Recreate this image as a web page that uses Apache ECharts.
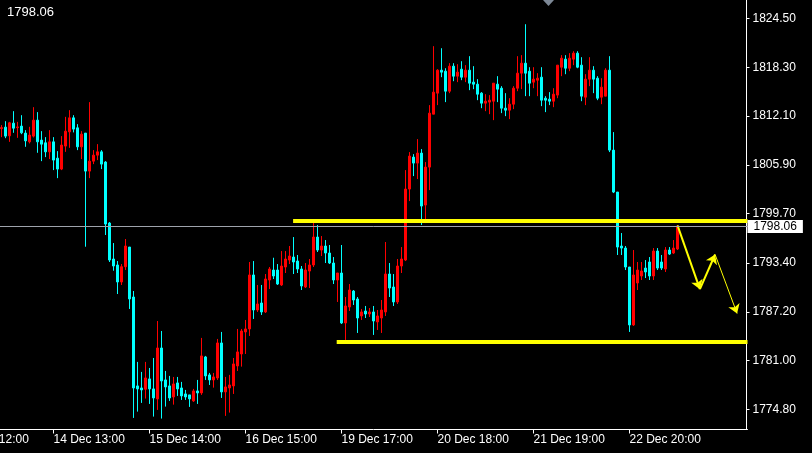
<!DOCTYPE html>
<html><head><meta charset="utf-8">
<script src="https://cdn.jsdelivr.net/npm/echarts@6/dist/echarts.min.js"></script>
<style>html,body{margin:0;padding:0;background:#000;}#c{width:812px;height:453px;}</style>
</head><body><div id="c"></div>
<script>
// ---- data ----
const tickLabels = ['13 Dec 12:00','14 Dec 13:00','15 Dec 14:00','16 Dec 15:00','19 Dec 17:00','20 Dec 18:00','21 Dec 19:00','22 Dec 20:00'];
const priceTicks = [1774.80,1781.00,1787.20,1793.40,1799.70,1805.90,1812.10,1818.30,1824.50];
const opens = [1810.50,1810.69,1809.59,1811.20,1810.63,1810.82,1809.93,1808.82,1809.55,1811.58,
1809.04,1808.70,1807.55,1808.82,1806.75,1805.36,1808.28,1810.09,1811.87,1810.60,
1808.19,1809.93,1805.10,1806.37,1807.13,1807.55,1806.25,1798.50,1793.93,1793.17,
1791.01,1792.95,1795.45,1789.10,1777.80,1777.54,1777.38,1778.69,1777.42,1776.15,
1782.62,1778.56,1777.80,1776.40,1778.18,1777.54,1776.78,1776.66,1775.89,1777.16,
1776.91,1781.48,1779.20,1778.56,1778.81,1783.26,1777.04,1777.54,1777.80,1780.34,
1781.86,1784.66,1785.04,1791.90,1787.45,1788.34,1787.20,1791.26,1792.53,1792.53,
1790.63,1792.91,1793.80,1794.18,1793.67,1792.66,1790.37,1792.40,1793.17,1796.72,
1795.07,1795.58,1794.69,1793.42,1791.26,1792.15,1785.80,1787.83,1789.86,1788.85,
1786.69,1787.32,1786.94,1787.20,1785.93,1786.43,1787.20,1792.02,1790.37,1788.47,
1793.04,1793.80,1802.82,1806.88,1806.12,1807.39,1800.79,1805.61,1812.34,1815.01,
1817.93,1817.80,1815.26,1818.44,1817.17,1818.06,1817.04,1817.93,1816.41,1816.15,
1815.01,1813.74,1813.87,1813.99,1816.15,1815.64,1813.10,1812.85,1813.61,1815.64,
1817.55,1818.82,1817.80,1816.41,1816.66,1817.04,1814.37,1814.25,1813.99,1814.76,
1818.31,1819.33,1818.18,1819.33,1820.09,1818.57,1814.50,1816.79,1817.93,1816.91,
1814.50,1814.63,1817.93,1807.77,1802.44,1795.58,1795.32,1792.91,1785.55,1790.88,
1791.77,1792.78,1793.55,1791.77,1794.94,1793.55,1792.66,1795.07,1794.69,1795.20];
const closes = [1810.63,1809.55,1811.24,1810.56,1810.72,1809.97,1808.95,1809.68,1811.58,1808.82,
1808.53,1807.55,1808.82,1806.50,1805.36,1808.41,1810.18,1811.87,1810.44,1808.19,
1809.80,1805.10,1806.37,1807.13,1807.55,1805.99,1798.37,1793.80,1793.04,1791.01,
1792.95,1795.58,1788.85,1777.54,1777.42,1777.29,1778.81,1777.42,1776.27,1782.62,
1778.43,1777.67,1776.27,1778.05,1777.42,1776.53,1776.40,1776.15,1777.16,1776.91,
1781.61,1779.07,1778.56,1778.94,1783.26,1777.04,1777.67,1777.92,1780.59,1782.12,
1784.78,1785.04,1791.90,1787.45,1788.21,1787.20,1791.39,1792.66,1791.77,1790.75,
1793.04,1793.93,1794.31,1793.55,1792.66,1790.50,1792.53,1793.17,1796.72,1795.07,
1795.58,1794.69,1793.42,1791.26,1792.15,1785.80,1787.96,1789.99,1788.72,1786.43,
1787.20,1786.94,1787.20,1786.05,1786.69,1787.45,1792.02,1790.24,1788.47,1793.04,
1793.93,1802.82,1807.01,1806.12,1807.39,1800.66,1805.61,1812.47,1815.14,1817.93,
1817.68,1815.26,1818.44,1817.17,1817.68,1817.04,1817.93,1816.28,1816.15,1814.88,
1813.74,1813.99,1814.12,1816.28,1815.52,1813.10,1812.85,1813.61,1815.64,1817.55,
1818.82,1817.55,1816.28,1816.79,1816.91,1814.12,1814.12,1813.99,1814.88,1818.57,
1819.45,1818.18,1819.45,1820.09,1818.31,1814.63,1816.79,1817.93,1816.79,1814.37,
1815.77,1817.93,1807.77,1802.44,1795.45,1795.32,1792.91,1785.55,1791.90,1792.53,
1792.40,1792.28,1791.77,1794.94,1792.78,1792.78,1795.07,1794.56,1795.32,1798.06];
const lows = [1809.42,1809.29,1808.82,1809.97,1809.33,1809.80,1808.19,1808.62,1809.38,1807.43,
1806.37,1806.88,1806.63,1805.23,1804.21,1805.23,1807.55,1808.06,1810.02,1807.77,
1806.63,1795.49,1804.21,1805.99,1806.50,1805.36,1796.98,1793.55,1792.44,1789.48,
1790.63,1792.53,1787.58,1773.73,1774.53,1775.64,1776.19,1775.51,1773.90,1774.75,
1773.65,1775.17,1775.89,1775.42,1776.53,1776.02,1776.02,1775.13,1775.77,1775.51,
1776.66,1778.56,1777.92,1777.58,1778.56,1776.27,1773.99,1774.41,1776.78,1779.70,
1780.25,1781.86,1784.15,1786.31,1787.20,1786.82,1787.07,1790.12,1791.39,1790.63,
1790.50,1792.15,1793.29,1792.02,1792.15,1789.99,1790.24,1790.24,1792.91,1794.82,
1794.31,1793.42,1793.29,1790.75,1788.47,1785.67,1783.64,1787.32,1788.09,1784.53,
1786.18,1786.43,1786.56,1784.28,1784.91,1784.53,1786.69,1789.10,1787.96,1788.21,
1792.15,1793.67,1801.29,1804.47,1804.09,1798.25,1798.50,1802.69,1812.34,1813.49,
1817.04,1813.87,1815.01,1816.53,1816.41,1816.66,1816.41,1815.39,1815.52,1814.12,
1813.10,1812.72,1812.34,1811.58,1813.87,1812.47,1812.09,1811.71,1812.98,1815.26,
1815.52,1814.63,1814.63,1815.64,1814.63,1813.36,1812.60,1813.49,1813.23,1814.37,
1817.17,1817.42,1817.80,1818.57,1818.18,1813.99,1813.49,1815.90,1815.01,1814.12,
1813.61,1814.63,1807.52,1802.31,1794.44,1794.44,1792.53,1784.66,1785.42,1789.99,
1791.26,1791.51,1791.26,1791.26,1792.53,1792.53,1792.28,1794.44,1794.56,1795.07];
const highs = [1810.95,1811.45,1811.36,1812.72,1811.36,1812.21,1810.31,1810.73,1813.23,1812.60,
1810.18,1809.42,1810.31,1809.42,1807.64,1809.55,1812.00,1812.85,1812.21,1811.07,
1810.18,1809.93,1813.87,1807.77,1808.53,1807.77,1806.37,1798.63,1795.96,1793.67,
1793.29,1796.47,1795.45,1789.86,1780.85,1779.58,1780.85,1780.08,1781.35,1786.05,
1784.78,1779.70,1779.07,1778.94,1778.94,1778.31,1777.29,1776.66,1777.42,1778.56,
1783.90,1781.61,1779.45,1779.45,1783.77,1784.66,1778.94,1779.20,1781.35,1785.04,
1785.04,1786.18,1793.55,1793.67,1790.63,1790.63,1792.02,1792.91,1794.09,1793.29,
1794.94,1794.94,1795.58,1796.72,1794.44,1793.04,1793.42,1793.93,1798.54,1798.25,
1796.85,1796.34,1795.71,1794.18,1792.15,1795.71,1789.10,1790.75,1789.99,1789.10,
1787.58,1787.96,1787.70,1787.96,1787.45,1788.72,1796.09,1793.42,1792.02,1793.93,
1795.45,1805.23,1807.52,1807.26,1809.17,1807.90,1806.25,1813.49,1820.98,1818.06,
1820.72,1818.18,1818.82,1818.82,1818.69,1819.07,1818.57,1819.71,1818.44,1816.79,
1815.14,1814.88,1814.76,1816.28,1817.17,1815.90,1815.01,1814.37,1815.90,1819.71,
1819.84,1823.77,1818.31,1818.31,1817.55,1818.31,1814.63,1815.14,1815.64,1818.57,
1819.84,1819.84,1820.09,1820.34,1820.34,1819.58,1817.42,1819.58,1818.44,1817.17,
1816.91,1818.18,1819.71,1810.06,1802.44,1797.23,1795.58,1792.91,1795.07,1793.55,
1793.55,1793.80,1794.18,1795.32,1795.32,1794.44,1795.45,1795.45,1796.34,1798.25];
const currentPrice = 1798.06;
const resistanceLevel = 1798.75, resistanceFrom = 72.9;
const supportLevel = 1783.47, supportFrom = 83.8;
const arrowPoints = [[169.0,1798.20],[174.6,1790.10],[178.4,1794.50],[183.9,1787.00]];
const leadBars = 11;     // hidden bars before the first visible candle
const totalBars = 198;   // bars in the visible window incl. right shift

// ---- build ----
const cats = [];
for (let k = 0; k < totalBars; k++) cats.push(String(k));
const candleData = [];
for (let k = 0; k < leadBars; k++) candleData.push('-');
for (let i = 0; i < opens.length; i++) candleData.push([opens[i], closes[i], lows[i], highs[i]]);
const isTick = (idx) => idx % 24 === 0 && (idx / 24) < tickLabels.length;
const FONT = 'Liberation Sans';

const chart = echarts.init(document.getElementById('c'), null, {renderer: 'canvas'});
chart.setOption({
  backgroundColor: '#000000',
  animation: false,
  title: {text: currentPrice.toFixed(2), left: 2, top: 1,
    textStyle: {color: '#ffffff', fontSize: 13, fontWeight: 'normal', fontFamily: FONT}},
  grid: {left: -44.5, right: 64.5, top: 0, bottom: 23.5, containLabel: false, outerBoundsMode: 'none'},
  xAxis: [{
    type: 'category', data: cats, boundaryGap: true,
    axisLine: {show: true, onZero: false, lineStyle: {color: '#ffffff', width: 1}},
    axisTick: {show: true, interval: (idx) => isTick(idx), alignWithLabel: true, length: 4, lineStyle: {color: '#ffffff'}},
    axisLabel: {show: true, interval: (idx) => isTick(idx), formatter: (v, idx) => isTick(idx) ? tickLabels[idx / 24] : '',
      color: '#ffffff', fontSize: 12, fontFamily: FONT, align: 'left', margin: 4},
    splitLine: {show: false}
  }, {
    type: 'value', show: false, min: -leadBars - 0.5, max: totalBars - leadBars - 0.5,
    axisLine: {onZero: false}
  }],
  yAxis: {
    type: 'value', position: 'right', min: 1772.26, max: 1826.85, offset: -1,
    axisLine: {show: true, onZero: false, lineStyle: {color: '#ffffff', width: 1}},
    axisTick: {show: true, length: 3, lineStyle: {color: '#ffffff'}, customValues: priceTicks},
    axisLabel: {show: true, color: '#ffffff', fontSize: 12, fontFamily: FONT, margin: 6,
      customValues: priceTicks, formatter: (v) => Number(v).toFixed(2)},
    splitLine: {show: false}
  },
  graphic: [{type: 'polygon', shape: {points: [[543, 0], [554, 0], [548.5, 6]]}, style: {fill: '#7d8896'}}],
  series: [{
    type: 'candlestick', xAxisIndex: 0, yAxisIndex: 0, data: candleData, barWidth: 2,
    itemStyle: {color: '#ff0000', color0: '#00ffff', borderColor: '#ff0000', borderColor0: '#00ffff', borderWidth: 1},
    emphasis: {disabled: true},
    markLine: {
      silent: true, symbol: ['none', 'none'], animation: false,
      lineStyle: {color: '#9ea3ab', width: 1, type: 'solid'},
      label: {show: true, position: 'end', formatter: currentPrice.toFixed(2), backgroundColor: '#ffffff',
        color: '#000000', fontSize: 12, fontFamily: FONT, padding: [1, 6, 0, 6], distance: 0},
      emphasis: {disabled: true},
      data: [{yAxis: currentPrice}]
    }
  }, {
    type: 'lines', coordinateSystem: 'cartesian2d', xAxisIndex: 1, yAxisIndex: 0, polyline: false, silent: true, z: 3,
    lineStyle: {color: '#ffff00', width: 4, opacity: 1},
    data: [
      {coords: [[resistanceFrom, resistanceLevel], [totalBars - leadBars - 0.5, resistanceLevel]]},
      {coords: [[supportFrom, supportLevel], [totalBars - leadBars - 0.5, supportLevel]]}
    ]
  }, {
    type: 'lines', coordinateSystem: 'cartesian2d', xAxisIndex: 1, yAxisIndex: 0, polyline: false, silent: true, z: 4,
    symbol: ['none', 'arrow'], symbolSize: 9,
    lineStyle: {color: '#ffff00', width: 2, opacity: 1},
    data: [
      {coords: [arrowPoints[0], arrowPoints[1]]},
      {coords: [arrowPoints[1], arrowPoints[2]]},
      {coords: [arrowPoints[2], arrowPoints[3]], lineStyle: {width: 1}}
    ]
  }]
});
</script>
</body></html>
